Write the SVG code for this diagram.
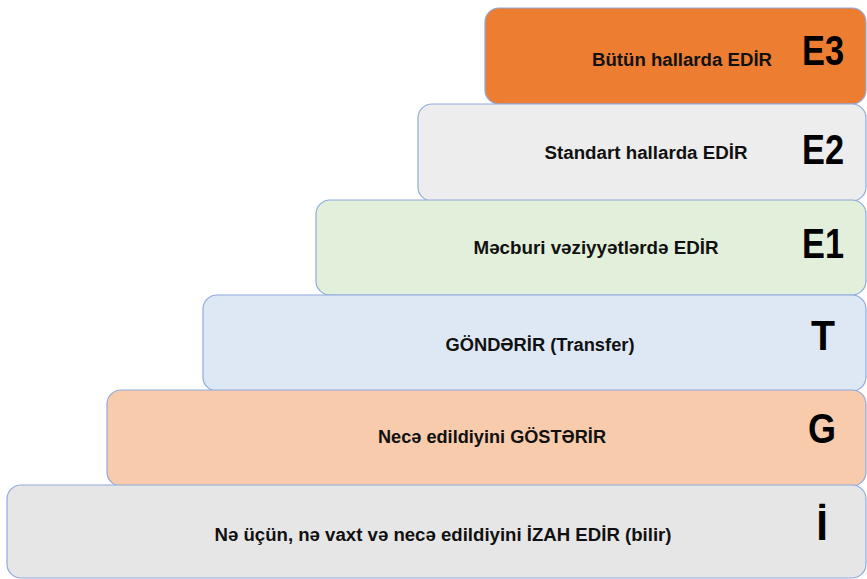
<svg xmlns="http://www.w3.org/2000/svg" width="867" height="579" viewBox="0 0 867 579">
<style>
.box{stroke:#8FAADC;stroke-width:1.2}
.lbl{font-family:"Liberation Sans",Arial,sans-serif;font-weight:bold;font-size:18px;fill:#111;text-anchor:middle}
.big{font-family:"Liberation Sans",Arial,sans-serif;font-weight:bold;font-size:42px;fill:#000;text-anchor:middle}
</style>
<rect width="867" height="579" fill="#ffffff"/>
<g id="E3">
<rect class="box" x="485" y="8" width="381" height="96" rx="14" fill="#ED7D31"/>
<text class="lbl" x="682" y="66" textLength="180" lengthAdjust="spacingAndGlyphs">Bütün hallarda EDİR</text>
<text class="big" x="823" y="65" textLength="42" lengthAdjust="spacingAndGlyphs">E3</text>
</g>
<g id="E2">
<rect class="box" x="418" y="104" width="448" height="97" rx="14" fill="#EDEDED"/>
<text class="lbl" x="646" y="159" textLength="203" lengthAdjust="spacingAndGlyphs">Standart hallarda EDİR</text>
<text class="big" x="823" y="164" textLength="42" lengthAdjust="spacingAndGlyphs">E2</text>
</g>
<g id="E1">
<rect class="box" x="316" y="200" width="550" height="95" rx="14" fill="#E2EFDA"/>
<text class="lbl" x="596" y="254" textLength="245" lengthAdjust="spacingAndGlyphs">Məcburi vəziyyətlərdə EDİR</text>
<text class="big" x="823" y="258" textLength="42" lengthAdjust="spacingAndGlyphs">E1</text>
</g>
<g id="T">
<rect class="box" x="203" y="295" width="663" height="96" rx="14" fill="#DEE8F5"/>
<text class="lbl" x="540" y="351" textLength="189" lengthAdjust="spacingAndGlyphs">GÖNDƏRİR (Transfer)</text>
<text class="big" x="823" y="350" textLength="24" lengthAdjust="spacingAndGlyphs">T</text>
</g>
<g id="G">
<rect class="box" x="107" y="390" width="759" height="96" rx="14" fill="#F8CBAD"/>
<text class="lbl" x="492" y="443" textLength="228" lengthAdjust="spacingAndGlyphs">Necə edildiyini GÖSTƏRİR</text>
<text class="big" x="822" y="443" textLength="28" lengthAdjust="spacingAndGlyphs">G</text>
</g>
<g id="I">
<rect class="box" x="7" y="485" width="859" height="93" rx="14" fill="#E7E6E6"/>
<text class="lbl" x="443" y="541" textLength="457" lengthAdjust="spacingAndGlyphs">Nə üçün, nə vaxt və necə edildiyini İZAH EDİR (bilir)</text>
<text class="big" x="822" y="540">İ</text>
</g>
<g id="connectors"></g>
</svg>
